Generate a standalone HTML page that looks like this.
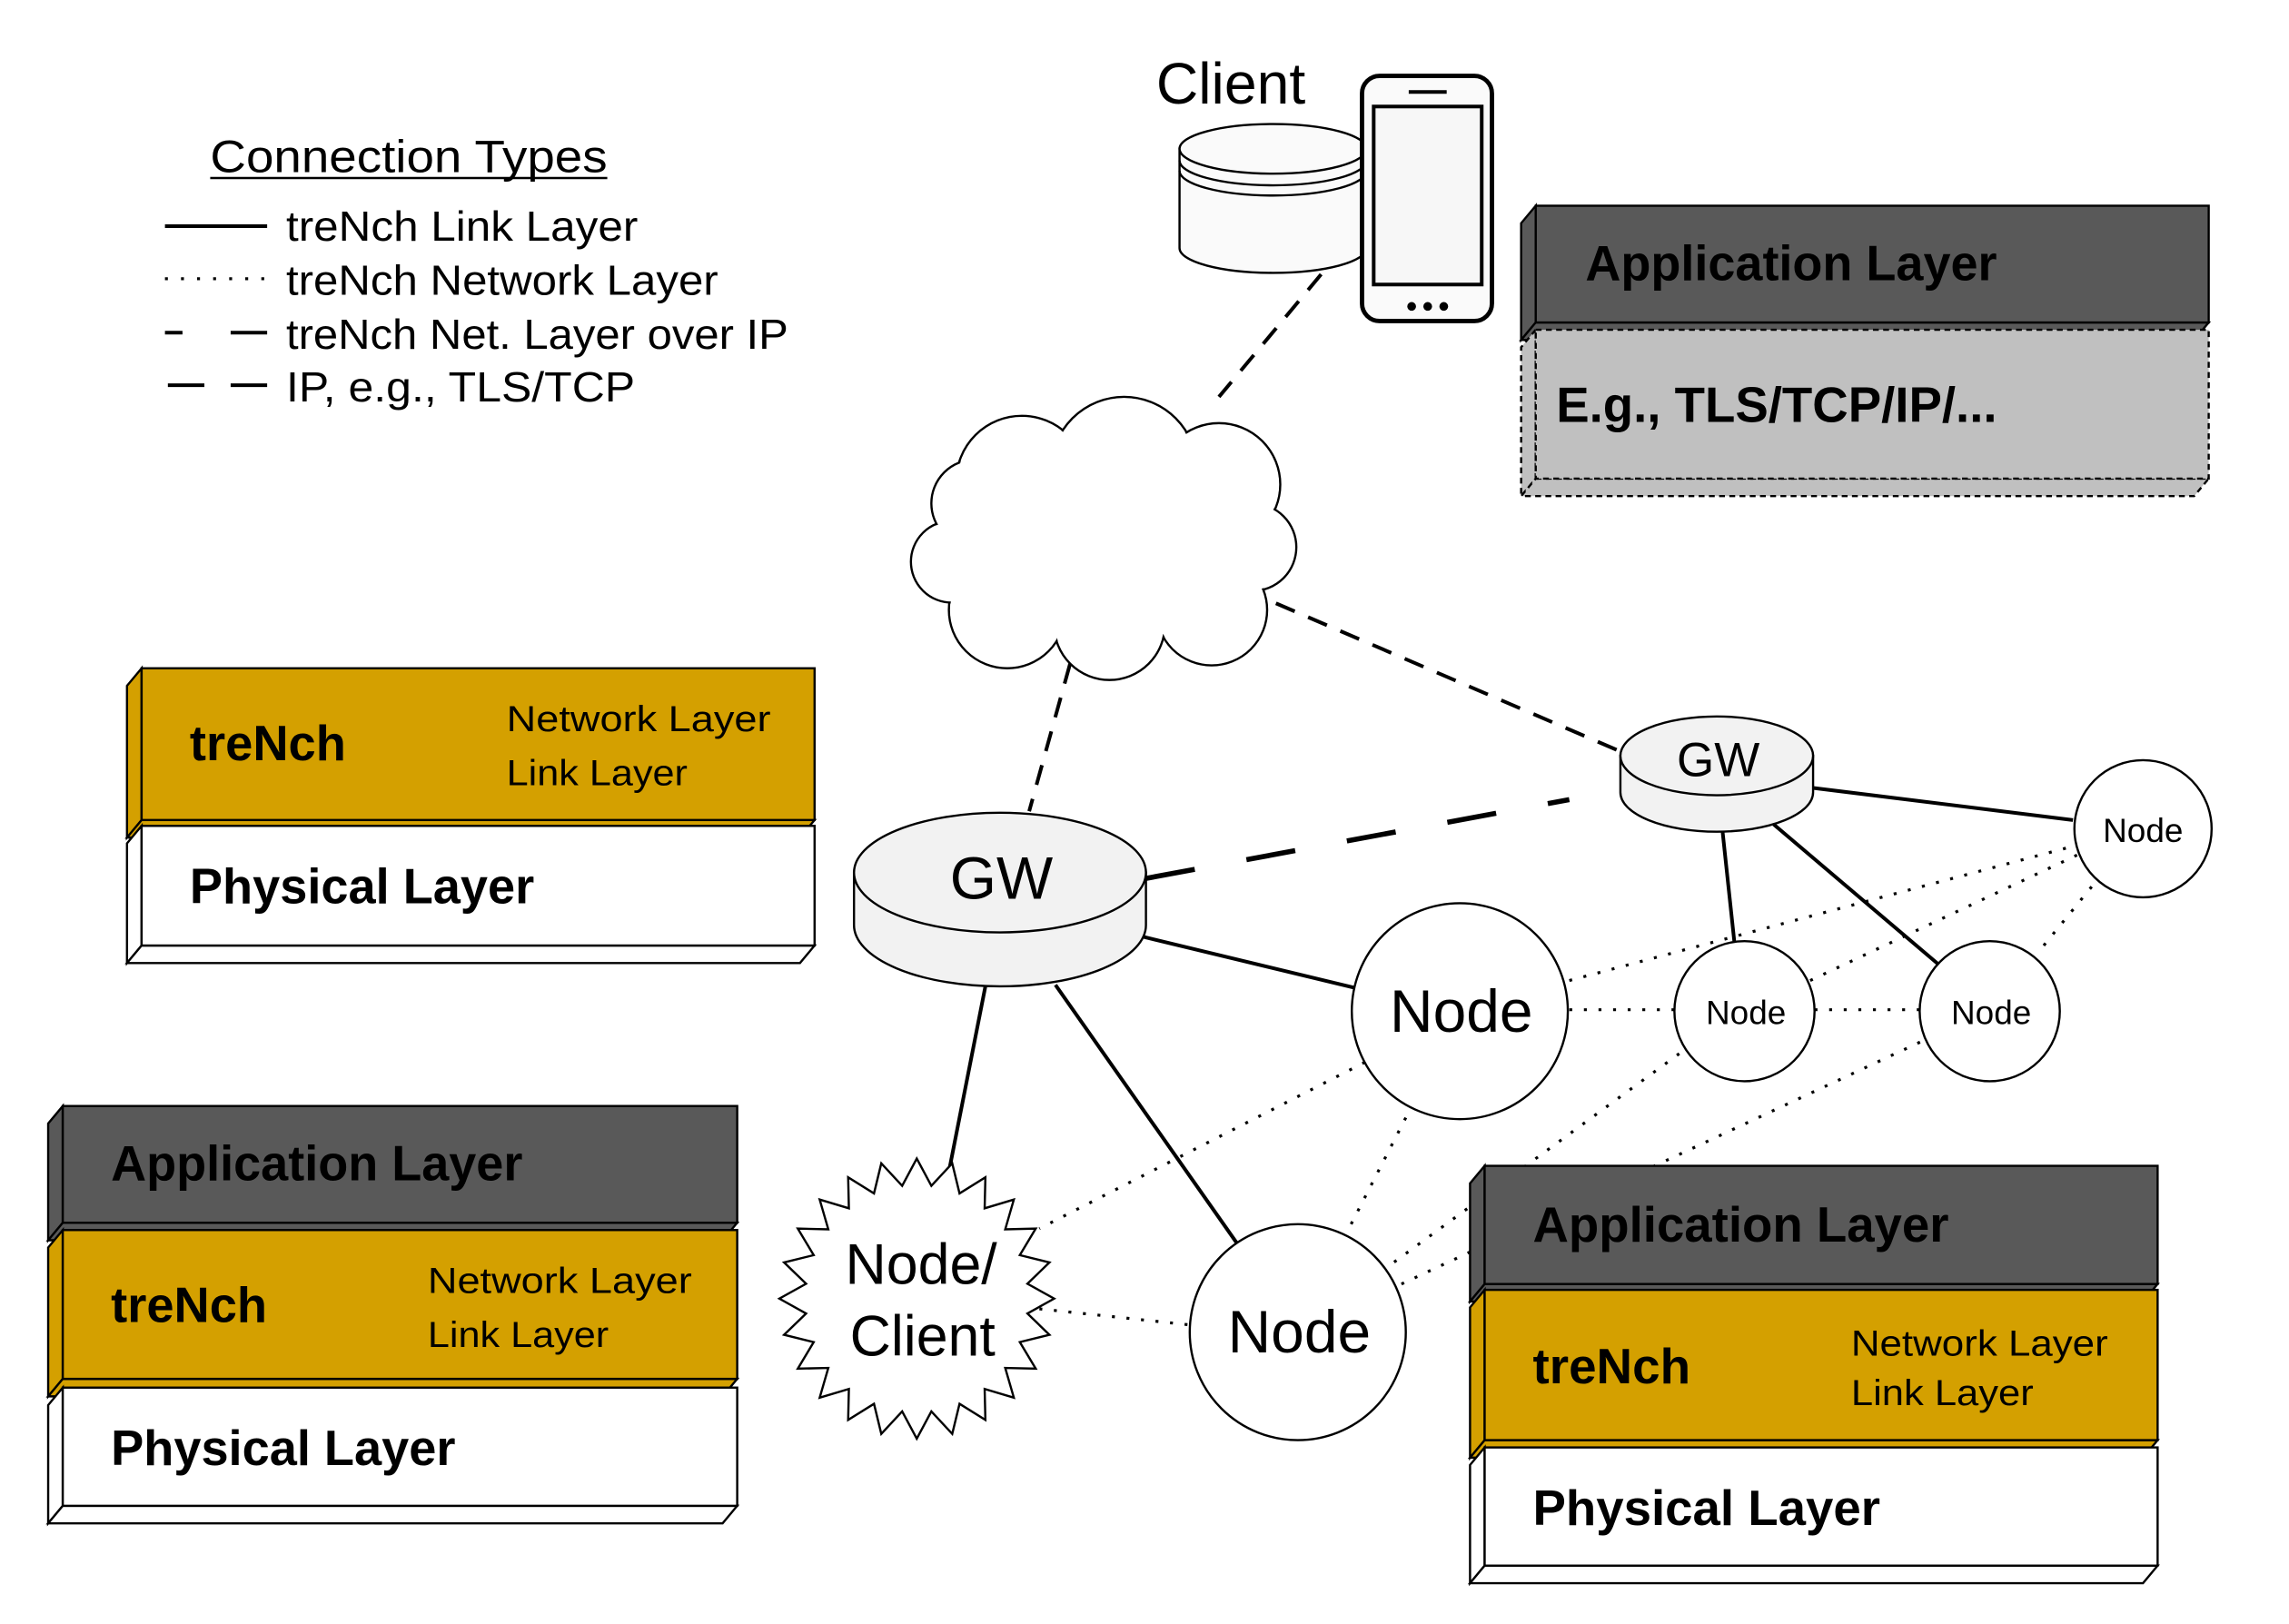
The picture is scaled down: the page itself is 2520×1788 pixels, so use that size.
<!DOCTYPE html>
<html><head><meta charset="utf-8"><style>
html,body{margin:0;padding:0;background:#fff;}
svg{display:block;}
text{font-family:"Liberation Sans",sans-serif;}
.b{font-weight:bold;font-size:34px;}
.n{font-size:25px;}
</style></head><body>
<svg id="s" width="2520" height="1788" viewBox="0 0 1568 1113" preserveAspectRatio="none" xmlns="http://www.w3.org/2000/svg">
<rect width="1568" height="1113" fill="#fff"/>

<!-- legend -->
<text x="144" y="118" font-size="31" textLength="272" lengthAdjust="spacingAndGlyphs">Connection Types</text>
<line x1="144" y1="122" x2="416" y2="122" stroke="#000" stroke-width="1.5"/>
<line x1="113" y1="155" x2="183" y2="155" stroke="#000" stroke-width="2.5"/>
<line x1="113" y1="191" x2="183" y2="191" stroke="#000" stroke-width="2" stroke-dasharray="2 9"/>
<line x1="113" y1="228" x2="125" y2="228" stroke="#000" stroke-width="2.5"/>
<line x1="158" y1="228" x2="183" y2="228" stroke="#000" stroke-width="2.5"/>
<line x1="115" y1="264" x2="140" y2="264" stroke="#000" stroke-width="2.5"/>
<line x1="158" y1="264" x2="183" y2="264" stroke="#000" stroke-width="2.5"/>
<g font-size="29">
<text x="196" y="165" textLength="241" lengthAdjust="spacingAndGlyphs">treNch Link Layer</text>
<text x="196" y="202" textLength="296" lengthAdjust="spacingAndGlyphs">treNch Network Layer</text>
<text x="196" y="239" textLength="344" lengthAdjust="spacingAndGlyphs">treNch Net. Layer over IP</text>
<text x="196" y="275" textLength="239" lengthAdjust="spacingAndGlyphs">IP, e.g., TLS/TCP</text>
</g>

<!-- connectors -->
<g stroke="#000" fill="none">
<line x1="905" y1="188" x2="835" y2="272" stroke-width="2.5" stroke-dasharray="14 10"/>
<line x1="852" y1="404" x2="1110" y2="515" stroke-width="2.5" stroke-dasharray="14 10"/>
<line x1="733" y1="455" x2="705" y2="556" stroke-width="2.5" stroke-dasharray="14 10"/>
<line x1="785" y1="602" x2="1075" y2="548" stroke-width="3.5" stroke-dasharray="34 36"/>
<g stroke-width="2.5">
<line x1="783" y1="642" x2="928" y2="677"/>
<line x1="675" y1="676" x2="650" y2="803"/>
<line x1="723" y1="675" x2="848" y2="853"/>
<line x1="1180" y1="570" x2="1188" y2="645"/>
<line x1="1215" y1="565" x2="1328" y2="661"/>
<line x1="1242" y1="540" x2="1420" y2="562"/>
</g>
<g stroke-width="2" stroke-dasharray="2 8">
<line x1="1075" y1="672" x2="1420" y2="580"/>
<line x1="1075" y1="692" x2="1147" y2="692"/>
<line x1="1243" y1="692" x2="1315" y2="692"/>
<line x1="1240" y1="672" x2="1425" y2="585"/>
<line x1="1400" y1="648" x2="1435" y2="605"/>
<line x1="935" y1="728" x2="712" y2="842"/>
<line x1="963" y1="766" x2="925" y2="840"/>
<line x1="712" y1="897" x2="815" y2="908"/>
<line x1="955" y1="865" x2="1160" y2="715"/>
<line x1="960" y1="880" x2="1320" y2="712"/>
</g>
</g>

<!-- cloud -->
<g id="cloud"></g>

<!-- client -->
<text x="792" y="71" font-size="40">Client</text>
<g stroke="#000" stroke-width="1.5" fill="#fafafa">
<path d="M808,102 L808,170 A64,17 0 0 0 936,170 L936,102 Z"/>
<ellipse cx="872" cy="102" rx="64" ry="17"/>
<path d="M808,110 A64,17 0 0 0 936,110 M808,117 A64,17 0 0 0 936,117" fill="none"/>
</g>
<rect x="933" y="52" width="89" height="168" rx="12" fill="#fafafa" stroke="#000" stroke-width="3"/>
<rect x="941" y="73" width="74" height="122" fill="#f7f7f7" stroke="#000" stroke-width="2.5"/>
<line x1="965" y1="63" x2="991" y2="63" stroke="#000" stroke-width="2.5"/>
<circle cx="967" cy="210" r="3"/><circle cx="978" cy="210" r="3"/><circle cx="989" cy="210" r="3"/>

<!-- GWs -->
<g stroke="#000" stroke-width="1.5" fill="#f2f2f2">
<path d="M585,598 L585,634 A100,42 0 0 0 785,634 L785,598 Z"/>
<ellipse cx="685" cy="598" rx="100" ry="41"/>
<path d="M1110,518 L1110,543 A66,27 0 0 0 1242,543 L1242,518 Z"/>
<ellipse cx="1176" cy="518" rx="66" ry="27"/>
</g>
<text x="686" y="616" font-size="41" text-anchor="middle">GW</text>
<text x="1177" y="532" font-size="33" text-anchor="middle">GW</text>

<!-- nodes -->
<g stroke="#000" stroke-width="1.5" fill="#fff">
<circle cx="1000" cy="693" r="74"/>
<circle cx="889" cy="913" r="74"/>
<circle cx="1468" cy="568" r="47"/>
<circle cx="1195" cy="693" r="48"/>
<circle cx="1363" cy="693" r="48"/>
<polygon id="star" points=""/>
</g>
<g text-anchor="middle">
<text x="1001" y="707" font-size="41">Node</text>
<text x="890" y="927" font-size="41">Node</text>
<text x="1468" y="577" font-size="23">Node</text>
<text x="1196" y="702" font-size="23">Node</text>
<text x="1364" y="702" font-size="23">Node</text>
<text x="631" y="880" font-size="39">Node/</text>
<text x="632" y="929" font-size="39">Client</text>
</g>

<!-- boxes -->
<g id="boxes"></g>
<g id="btext">
<text x="1086" y="192" class="b" textLength="282" lengthAdjust="spacingAndGlyphs">Application Layer</text>
<text x="1066" y="289" class="b" textLength="302" lengthAdjust="spacingAndGlyphs">E.g., TLS/TCP/IP/...</text>
<text x="130" y="521" class="b" textLength="107" lengthAdjust="spacingAndGlyphs">treNch</text>
<text x="347" y="501" class="n" textLength="181" lengthAdjust="spacingAndGlyphs">Network Layer</text>
<text x="347" y="538" class="n" textLength="124" lengthAdjust="spacingAndGlyphs">Link Layer</text>
<text x="130" y="619" class="b" textLength="236" lengthAdjust="spacingAndGlyphs">Physical Layer</text>
<text x="76" y="809" class="b" textLength="282" lengthAdjust="spacingAndGlyphs">Application Layer</text>
<text x="76" y="906" class="b" textLength="107" lengthAdjust="spacingAndGlyphs">treNch</text>
<text x="293" y="886" class="n" textLength="181" lengthAdjust="spacingAndGlyphs">Network Layer</text>
<text x="293" y="923" class="n" textLength="124" lengthAdjust="spacingAndGlyphs">Link Layer</text>
<text x="76" y="1004" class="b" textLength="236" lengthAdjust="spacingAndGlyphs">Physical Layer</text>
<text x="1050" y="851" class="b" textLength="285" lengthAdjust="spacingAndGlyphs">Application Layer</text>
<text x="1050" y="948" class="b" textLength="108" lengthAdjust="spacingAndGlyphs">treNch</text>
<text x="1268" y="929" class="n" textLength="176" lengthAdjust="spacingAndGlyphs">Network Layer</text>
<text x="1268" y="963" class="n" textLength="125" lengthAdjust="spacingAndGlyphs">Link Layer</text>
<text x="1050" y="1045" class="b" textLength="238" lengthAdjust="spacingAndGlyphs">Physical Layer</text>
</g>
</svg>
<script>
var NS="http://www.w3.org/2000/svg";
function el(p,t,a){var e=document.createElementNS(NS,t);for(var k in a)e.setAttribute(k,a[k]);p.appendChild(e);return e;}
var pts=[],N=24;for(var i=0;i<2*N;i++){var a=Math.PI*i/N-Math.PI/2,r=(i%2==0)?96:78;pts.push((628+r*Math.cos(a)*0.98).toFixed(1)+","+(890+r*Math.sin(a)).toFixed(1));}
document.getElementById("star").setAttribute("points",pts.join(" "));
var cg=document.getElementById("cloud");
var cs=[[700,330,45],[770,322,50],[835,332,42],[858,375,30],[830,418,38],[760,428,38],[690,418,40],[652,385,28],[668,345,30],[745,375,65]];
cs.forEach(function(c){el(cg,"circle",{cx:c[0],cy:c[1],r:c[2],fill:"#fff",stroke:"#000","stroke-width":1.5});});
cs.forEach(function(c){el(cg,"circle",{cx:c[0],cy:c[1],r:c[2]-0.9,fill:"#fff"});});
el(cg,"ellipse",{cx:755,cy:378,rx:100,ry:62,fill:"#fff"});
var bg=document.getElementById("boxes");
function box(x1,y1,x2,y2,f,dash){var o={fill:f,stroke:"#000","stroke-width":1.5};if(dash)o["stroke-dasharray"]="4 3";
var d=10,h=12;
el(bg,"polygon",Object.assign({points:[x1,y1,x1-d,y1+h,x1-d,y2+h,x1,y2].join(" ")},o));
el(bg,"polygon",Object.assign({points:[x1,y2,x2,y2,x2-d,y2+h,x1-d,y2+h].join(" ")},o));
el(bg,"rect",Object.assign({x:x1,y:y1,width:x2-x1,height:y2-y1},o));}
var G="#d4a000",D="#595959";
box(1052,141,1513,221,D);box(1052,226,1513,328,"#c0c0c0",1);
box(97,458,558,562,G);box(97,566,558,648,"#fff");
box(43,758,505,838,D);box(43,843,505,945,G);box(43,951,505,1032,"#fff");
box(1017,799,1478,880,D);box(1017,884,1478,987,G);box(1017,992,1478,1073,"#fff");
</script>
</body></html>
